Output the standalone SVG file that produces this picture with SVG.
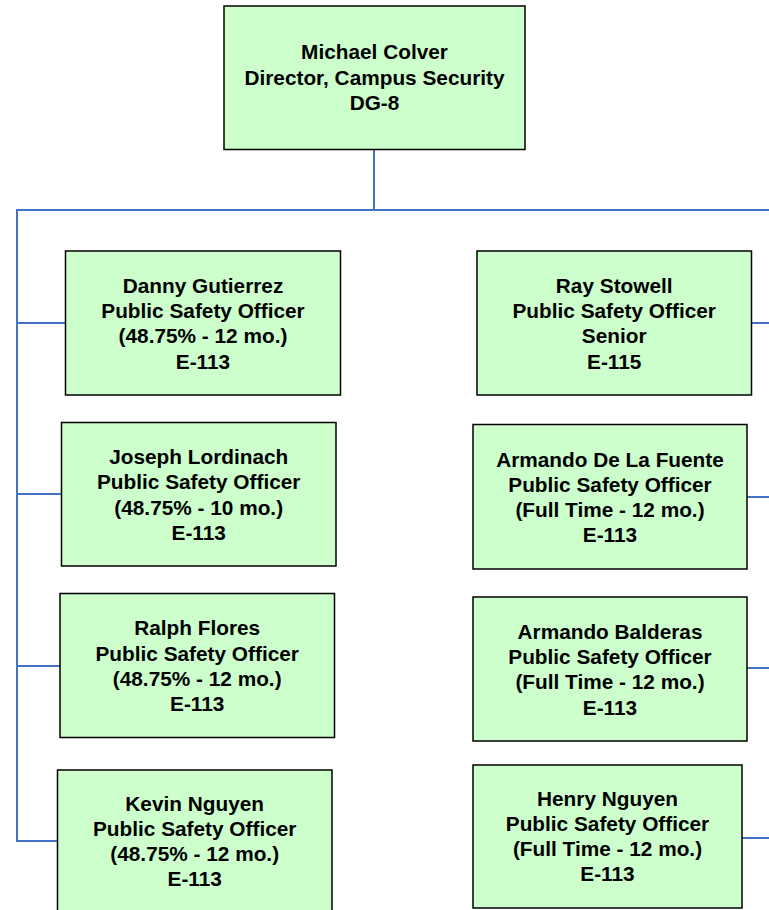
<svg xmlns="http://www.w3.org/2000/svg" width="769" height="910" viewBox="0 0 769 910">
<style>
.box{fill:#CCFFCC;stroke:#000;stroke-width:1.5}
.t{font-family:"Liberation Sans",Arial,sans-serif;font-weight:bold;font-size:20.8px;fill:#000;text-anchor:middle}
.c{stroke:#4472C4;stroke-width:2;fill:none}
</style>
<rect width="769" height="910" fill="#fff"/>
<g id="connectors">
<line class="c" x1="374" y1="150" x2="374" y2="210"/>
<line class="c" x1="17" y1="210" x2="769" y2="210"/>
<line class="c" x1="17" y1="209" x2="17" y2="842"/>
<line class="c" x1="16" y1="323" x2="65" y2="323"/>
<line class="c" x1="16" y1="494" x2="61" y2="494"/>
<line class="c" x1="16" y1="666" x2="60" y2="666"/>
<line class="c" x1="16" y1="841" x2="57" y2="841"/>
<line class="c" x1="752" y1="323" x2="769" y2="323"/>
<line class="c" x1="747" y1="497" x2="769" y2="497"/>
<line class="c" x1="747" y1="668" x2="769" y2="668"/>
<line class="c" x1="742" y1="838" x2="769" y2="838"/>
</g>
<g id="director">
<rect class="box" x="224" y="6" width="301" height="143.5"/>
<text class="t" x="374.5" y="59.3">Michael Colver</text>
<text class="t" x="374.5" y="84.8">Director, Campus Security</text>
<text class="t" x="374.5" y="110.2">DG-8</text>
</g>
<g id="danny">
<rect class="box" x="65.5" y="251" width="275" height="144"/>
<text class="t" x="203" y="292.7">Danny Gutierrez</text>
<text class="t" x="203" y="318">Public Safety Officer</text>
<text class="t" x="203" y="343.3">(48.75% - 12 mo.)</text>
<text class="t" x="203" y="368.6">E-113</text>
</g>
<g id="joseph">
<rect class="box" x="61.5" y="422.5" width="274.5" height="143.5"/>
<text class="t" x="198.7" y="464">Joseph Lordinach</text>
<text class="t" x="198.7" y="489.3">Public Safety Officer</text>
<text class="t" x="198.7" y="514.6">(48.75% - 10 mo.)</text>
<text class="t" x="198.7" y="539.9">E-113</text>
</g>
<g id="ralph">
<rect class="box" x="60" y="593.5" width="274.5" height="144"/>
<text class="t" x="197.2" y="635.3">Ralph Flores</text>
<text class="t" x="197.2" y="660.6">Public Safety Officer</text>
<text class="t" x="197.2" y="685.9">(48.75% - 12 mo.)</text>
<text class="t" x="197.2" y="711.2">E-113</text>
</g>
<g id="kevin">
<rect class="box" x="57.5" y="770" width="274.5" height="145"/>
<text class="t" x="194.7" y="810.5">Kevin Nguyen</text>
<text class="t" x="194.7" y="835.8">Public Safety Officer</text>
<text class="t" x="194.7" y="861.1">(48.75% - 12 mo.)</text>
<text class="t" x="194.7" y="886.4">E-113</text>
</g>
<g id="ray">
<rect class="box" x="477" y="251" width="274.5" height="144"/>
<text class="t" x="614.2" y="292.7">Ray Stowell</text>
<text class="t" x="614.2" y="318">Public Safety Officer</text>
<text class="t" x="614.2" y="343.3">Senior</text>
<text class="t" x="614.2" y="368.6">E-115</text>
</g>
<g id="armando-de-la-fuente">
<rect class="box" x="473" y="424.5" width="274" height="144.5"/>
<text class="t" x="610" y="466.5">Armando De La Fuente</text>
<text class="t" x="610" y="491.8">Public Safety Officer</text>
<text class="t" x="610" y="517.1">(Full Time - 12 mo.)</text>
<text class="t" x="610" y="542.4">E-113</text>
</g>
<g id="armando-balderas">
<rect class="box" x="473" y="597" width="274" height="144"/>
<text class="t" x="610" y="638.7">Armando Balderas</text>
<text class="t" x="610" y="664">Public Safety Officer</text>
<text class="t" x="610" y="689.3">(Full Time - 12 mo.)</text>
<text class="t" x="610" y="714.6">E-113</text>
</g>
<g id="henry">
<rect class="box" x="473" y="765" width="269" height="143"/>
<text class="t" x="607.5" y="805.5">Henry Nguyen</text>
<text class="t" x="607.5" y="830.8">Public Safety Officer</text>
<text class="t" x="607.5" y="856.1">(Full Time - 12 mo.)</text>
<text class="t" x="607.5" y="881.4">E-113</text>
</g>
</svg>
